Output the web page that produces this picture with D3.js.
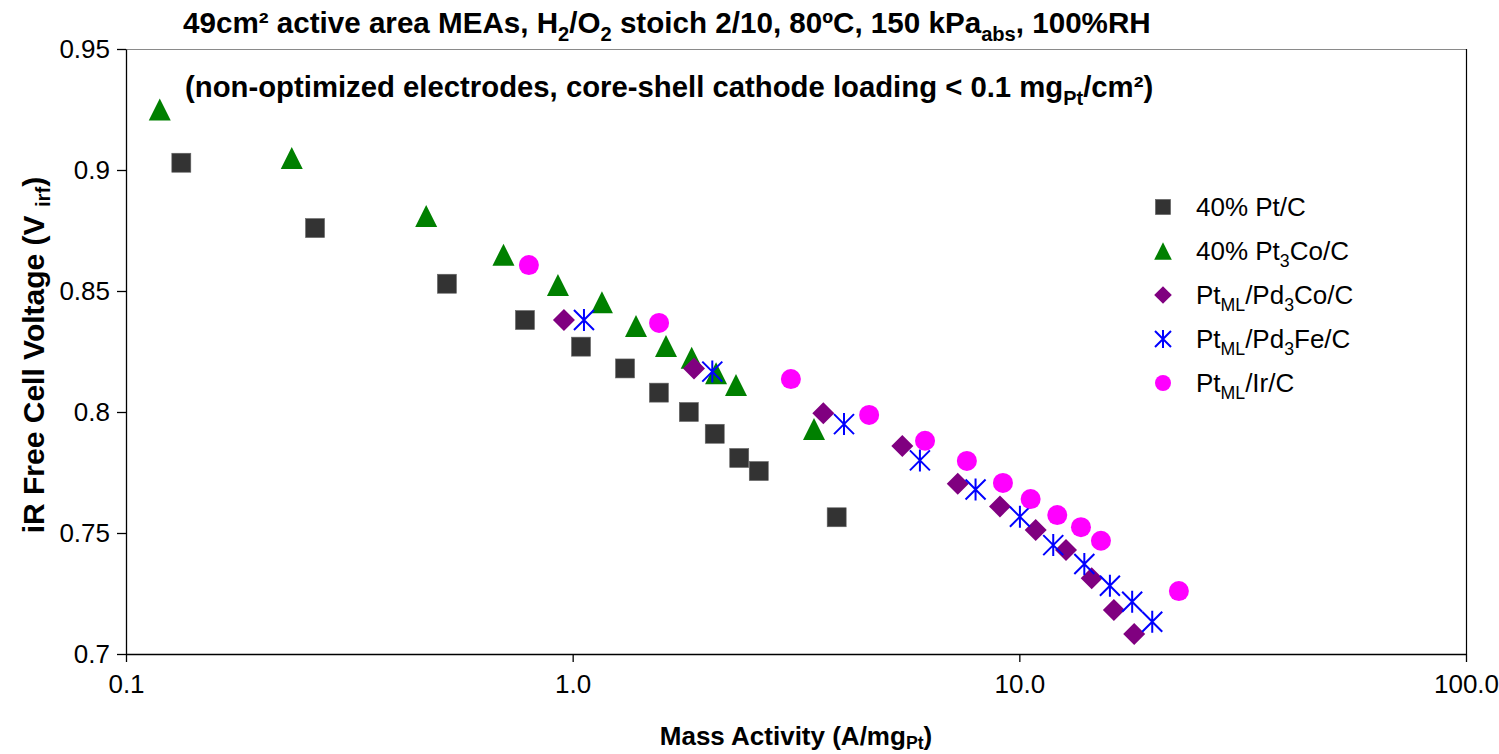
<!DOCTYPE html>
<html>
<meta charset="utf-8">
<head>
<title>mass activity vs iR free voltage</title>
	<script src="https://d3js.org/d3.v7.min.js"></script>
	<style>
		body { margin: 0; background: #fff; }
		text { font-family: "Liberation Sans", Arial, sans-serif; }
	</style>
</head>

<body>
	<div id = "plot"></div>
</body>

<script>

// data: [mass activity A/mgPt, voltage V]
var ptC = [[0.133,0.903],[0.265,0.876],[0.523,0.853],[0.782,0.838],[1.044,0.827],[1.31,0.818],
	[1.56,0.808],[1.82,0.800],[2.08,0.791],[2.36,0.781],[2.61,0.7756],[3.9,0.7565]];
var pt3Co = [[0.119,0.925],[0.235,0.905],[0.47,0.881],[0.70,0.865],[0.927,0.8525],[1.163,0.8453],
	[1.386,0.8355],[1.618,0.8273],[1.847,0.8224],[2.094,0.816],[2.321,0.8112],[3.47,0.793]];
var pd3Co = [[0.956,0.838],[1.869,0.818],[3.64,0.7995],[5.47,0.786],[7.28,0.7704],[9.05,0.761],
	[10.88,0.7512],[12.72,0.743],[14.52,0.7313],[16.28,0.7182],[18.08,0.7083]];
var pd3Fe = [[1.06,0.838],[2.054,0.8167],[4.05,0.795],[5.99,0.780],[7.98,0.768],[10.03,0.7567],
	[11.91,0.745],[13.98,0.7372],[15.95,0.7282],[17.89,0.7216],[19.84,0.7133]];
var irC = [[0.798,0.8607],[1.561,0.8368],[3.08,0.8136],[4.61,0.7988],[6.15,0.7881],[7.63,0.7798],
	[9.19,0.7707],[10.6,0.764],[12.16,0.7574],[13.74,0.7524],[15.23,0.7468],[22.76,0.726]];

var xTicks = [0.1, 1, 10, 100];
var yTicks = [0.7, 0.75, 0.8, 0.85, 0.9, 0.95];

// legend labels as [text, "sub"|""] pieces
var seriesNames = [
	[["40% Pt/C",""]],
	[["40% Pt",""],["3","sub"],["Co/C",""]],
	[["Pt",""],["ML","sub"],["/Pd",""],["3","sub"],["Co/C",""]],
	[["Pt",""],["ML","sub"],["/Pd",""],["3","sub"],["Fe/C",""]],
	[["Pt",""],["ML","sub"],["/Ir/C",""]]
];

var width = 1499, height = 754;
var plotL = 126, plotR = 1466, plotT = 49, plotB = 654;

var svg = d3.select("#plot").append("svg")
		.attr("width", width)
		.attr("height", height);

var xScale = d3.scaleLog().domain([0.1, 100]).range([plotL, plotR]);
var yScale = d3.scaleLinear().domain([0.7, 0.95]).range([plotB, plotT]);

// write a label made of pieces, some of them subscript
function rich(t, parts, size, drop){
	var shift = 0;
	drop = drop || 0.28;
	parts.forEach(function(p){
		var s = t.append("tspan").text(p[0]);
		if (p[1] == "sub"){
			s.attr("font-size", size*0.68).attr("dy", size*drop - shift);
			shift = size*drop;
		} else if (shift){
			s.attr("dy", -shift);
			shift = 0;
		}
	});
	return t;
}

// frame
svg.append("line").attr("x1", plotL).attr("x2", plotR).attr("y1", plotT+0.5).attr("y2", plotT+0.5)
	.attr("stroke", "#8a8a8a").attr("stroke-width", 1.2);
svg.append("line").attr("x1", plotR+0.5).attr("x2", plotR+0.5).attr("y1", plotT).attr("y2", plotB)
	.attr("stroke", "#000").attr("stroke-width", 1.2);

var xAxis = d3.axisBottom(xScale).tickValues(xTicks).tickFormat(d3.format(".1f"))
	.tickSize(8).tickSizeOuter(0).tickPadding(13);
var yAxis = d3.axisLeft(yScale).tickValues(yTicks).tickFormat(d3.format("~g"))
	.tickSize(9).tickSizeOuter(0).tickPadding(7);

svg.append("g")
.attr("class","x axis")
.attr("transform", "translate(0,"+plotB+")")
.call(xAxis);

svg.append("g")
.attr("class","y axis")
.attr("transform","translate("+plotL+",0)")
.call(yAxis);

svg.selectAll(".axis path, .axis line").attr("stroke", "#000").attr("stroke-width", 1.3);
svg.selectAll(".axis text").attr("font-size", 26).attr("fill", "#000")
	.attr("font-family", "Liberation Sans, Arial, sans-serif");

// marker shapes, k scales them for the legend
function drawMarker(g, kind, k){
	if (kind == 0){
		g.append("rect").attr("x", -9.5*k).attr("y", -9.5*k).attr("width", 19*k).attr("height", 19*k)
			.attr("fill", "#333333").attr("stroke", "#666").attr("stroke-width", 0.6);
	} else if (kind == 1){
		g.append("path").attr("d", "M0,"+(-11*k)+"L"+(11*k)+","+(11*k)+"L"+(-11*k)+","+(11*k)+"Z")
			.attr("fill", "#008000");
	} else if (kind == 2){
		g.append("path").attr("d", "M0,"+(-11*k)+"L"+(11*k)+",0L0,"+(11*k)+"L"+(-11*k)+",0Z")
			.attr("fill", "#800080");
	} else if (kind == 3){
		var a = 10*k;
		g.append("path").attr("d", "M"+(-a)+","+(-a)+"L"+a+","+a+"M"+(-a)+","+a+"L"+a+","+(-a)+"M0,"+(-a-1)+"L0,"+(a+1))
			.attr("fill", "none").attr("stroke", "#0000ff").attr("stroke-width", 2);
	} else {
		g.append("circle").attr("r", 10*k).attr("fill", "#ff00ff");
	}
}

var allSeries = [ptC, pt3Co, pd3Co, pd3Fe, irC];

allSeries.forEach(function(data, i){
	svg.append("g").attr("class", "series s"+i)
		.selectAll("g")
		.data(data)
		.enter()
		.append("g")
		.attr("transform", function(d){ return "translate("+xScale(d[0])+","+yScale(d[1])+")"; })
		.each(function(){ drawMarker(d3.select(this), i, 1); });
});

// legend
var legend = svg.append("g").attr("class", "legend");
seriesNames.forEach(function(name, i){
	var cy = 207 + i*44;
	drawMarker(legend.append("g").attr("transform", "translate(1163,"+cy+")"), i, 0.8);
	rich(legend.append("text").attr("x", 1196).attr("y", cy+9).attr("font-size", 26), name, 26);
});

// titles
rich(svg.append("text").attr("x", 183).attr("y", 33).attr("font-size", 29.6).attr("font-weight", "bold"),
	[["49cm² active area MEAs, H",""],["2","sub"],["/O",""],["2","sub"],
	 [" stoich 2/10, 80ºC, 150 kPa",""],["abs","sub"],[", 100%RH",""]], 29.6);

rich(svg.append("text").attr("x", 185).attr("y", 97).attr("font-size", 29.3).attr("font-weight", "bold"),
	[["(non-optimized electrodes, core-shell cathode loading < 0.1 mg",""],["Pt","sub"],["/cm²)",""]], 29.3);

rich(svg.append("text").attr("x", (plotL+plotR)/2).attr("y", 745).attr("text-anchor", "middle")
	.attr("font-size", 26).attr("font-weight", "bold"),
	[["Mass Activity (A/mg",""],["Pt","sub"],[")",""]], 26, 0.15);

rich(svg.append("text").attr("transform", "translate(44,355) rotate(-90)").attr("text-anchor", "middle")
	.attr("font-size", 30).attr("font-weight", "bold"),
	[["iR Free Cell Voltage (V ",""],["irf","sub"],[")",""]], 30, 0.2);

</script>
</html>
